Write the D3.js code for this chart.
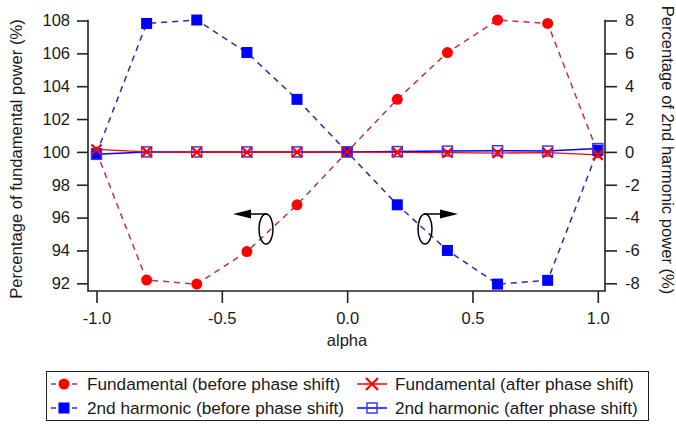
<!DOCTYPE html>
<html><head><meta charset="utf-8">
<script src="https://cdn.jsdelivr.net/npm/d3@7"></script>
<style>
html,body{margin:0;padding:0;background:#fff;}
svg{display:block;font-family:"Liberation Sans",Arial,sans-serif;}
</style></head>
<body>
<svg id="chart" width="676" height="424"></svg>
<script>
const alpha = [-1.0, -0.8, -0.6, -0.4, -0.2, 0.0, 0.2, 0.4, 0.6, 0.8, 1.0];
const fundBefore = [100.0, 92.2, 91.95, 93.93, 96.78, 100.0, 103.2, 106.05, 108.03, 107.82, 99.95];
const harmBefore = [-0.1, 7.82, 8.03, 6.05, 3.2, 0.0, -3.22, -6.0, -8.05, -7.82, 0.1];
const fundAfter = [100.15, 100.0, 99.98, 99.98, 99.98, 100.0, 99.97, 99.95, 99.93, 99.95, 99.82];
const harmAfter = [-0.15, 0.0, 0.0, 0.0, 0.0, 0.0, 0.02, 0.05, 0.07, 0.05, 0.2];
const xTicks = [-1.0, -0.5, 0.0, 0.5, 1.0];
const leftTicks = [92, 94, 96, 98, 100, 102, 104, 106, 108];
const rightTicks = [-8, -6, -4, -2, 0, 2, 4, 6, 8];
const legendLabels = ["Fundamental (before phase shift)", "2nd harmonic (before phase shift)",
                      "Fundamental (after phase shift)", "2nd harmonic (after phase shift)"];

const svg = d3.select("#chart");
const x = d3.scaleLinear().domain([-1, 1]).range([96.5, 597.8]);
const yL = d3.scaleLinear().domain([92, 108]).range([283.3, 20.5]);
const yR = d3.scaleLinear().domain([-8, 8]).range([283.3, 20.5]);
const left = 88, right = 605, bottom = 291;
const FS = 16.5;
const TXT = "#1a1a1a";

// axes
const axL = svg.append("g").attr("transform", `translate(${left},0)`)
  .call(d3.axisLeft(yL).tickValues(leftTicks).tickSize(11).tickPadding(7).tickFormat(d3.format("d")));
const axR = svg.append("g").attr("transform", `translate(${right},0)`)
  .call(d3.axisRight(yR).tickValues(rightTicks).tickSize(12).tickPadding(8).tickFormat(d => d < 0 ? "-" + Math.abs(d) : d));
const axB = svg.append("g").attr("transform", `translate(0,${bottom})`)
  .call(d3.axisBottom(x).tickValues(xTicks).tickSize(12).tickPadding(9).tickFormat(d => d < 0 ? "-" + Math.abs(d).toFixed(1) : d.toFixed(1)));
[axL, axR, axB].forEach(a => {
  a.select(".domain").remove();
  a.selectAll("line").attr("stroke", "#222").attr("stroke-width", 1.6);
  a.selectAll("text").attr("font-size", FS).attr("fill", TXT).attr("font-family", "Liberation Sans, Arial, sans-serif");
});
svg.append("line").attr("x1", left).attr("x2", left).attr("y1", yL(108) - 0.8).attr("y2", bottom).attr("stroke", "#222").attr("stroke-width", 1.6);
svg.append("line").attr("x1", right).attr("x2", right).attr("y1", yR(8) - 0.8).attr("y2", bottom).attr("stroke", "#222").attr("stroke-width", 1.6);
svg.append("line").attr("x1", left - 0.8).attr("x2", right + 0.8).attr("y1", bottom).attr("y2", bottom).attr("stroke", "#222").attr("stroke-width", 1.6);

// titles
svg.append("text").attr("transform", `translate(22,159) rotate(-90)`).attr("text-anchor", "middle")
  .attr("font-size", 16.6).attr("fill", TXT).text("Percentage of fundamental power (%)");
svg.append("text").attr("transform", `translate(662,150) rotate(90)`).attr("text-anchor", "middle")
  .attr("font-size", 16.6).attr("fill", TXT).text("Percentage of 2nd harmonic power (%)");
svg.append("text").attr("x", 347).attr("y", 346).attr("text-anchor", "middle")
  .attr("font-size", FS).attr("fill", TXT).text("alpha");

const pts = (ys, sc) => alpha.map((a, i) => [x(a), sc(ys[i])]);
const line = d3.line();

// after phase shift lines (solid)
svg.append("path").attr("d", line(pts(harmAfter, yR))).attr("fill", "none").attr("stroke", "#0000ff").attr("stroke-width", 1.5);
svg.append("path").attr("d", line(pts(fundAfter, yL))).attr("fill", "none").attr("stroke", "#ff0000").attr("stroke-width", 1.3);

// before lines (dashed)
svg.append("path").attr("d", line(pts(fundBefore, yL))).attr("fill", "none").attr("stroke", "#c0304a").attr("stroke-width", 1.5).attr("stroke-dasharray", "6,5");
svg.append("path").attr("d", line(pts(harmBefore, yR))).attr("fill", "none").attr("stroke", "#2a2ab0").attr("stroke-width", 1.5).attr("stroke-dasharray", "6,5");

// markers
svg.append("g").selectAll("circle").data(pts(fundBefore, yL)).join("circle")
  .attr("cx", d => d[0]).attr("cy", d => d[1]).attr("r", 5.5).attr("fill", "#ff0000");
svg.append("g").selectAll("rect").data(pts(harmBefore, yR)).join("rect")
  .attr("x", d => d[0] - 5.5).attr("y", d => d[1] - 5.5).attr("width", 11).attr("height", 11).attr("fill", "#0000ff");
svg.append("g").selectAll("rect").data(pts(harmAfter, yR)).join("rect")
  .attr("x", d => d[0] - 5).attr("y", d => d[1] - 5).attr("width", 10).attr("height", 10)
  .attr("fill", "none").attr("stroke", "#3a3aff").attr("stroke-width", 1.5);
svg.append("g").selectAll("path").data(pts(fundAfter, yL)).join("path")
  .attr("d", d => `M${d[0]-5},${d[1]-5}L${d[0]+5},${d[1]+5}M${d[0]-5},${d[1]+5}L${d[0]+5},${d[1]-5}`)
  .attr("stroke", "#ff0000").attr("stroke-width", 2.2).attr("fill", "none");

// annotations: ellipses with arrows
function annot(cx, cy, dir) {
  svg.append("ellipse").attr("cx", cx).attr("cy", cy).attr("rx", 7).attr("ry", 15)
    .attr("fill", "none").attr("stroke", "#000").attr("stroke-width", 1.5);
  const y0 = cy - 15;
  const tip = cx + dir * 33;
  svg.append("line").attr("x1", cx - dir * 1).attr("y1", y0).attr("x2", tip - dir * 14).attr("y2", y0).attr("stroke", "#000").attr("stroke-width", 1.5);
  svg.append("path").attr("d", `M${tip},${y0}L${tip - dir * 18},${y0 - 4.5}L${tip - dir * 18},${y0 + 4.5}Z`).attr("fill", "#000");
}
annot(266, 229, -1);
annot(425, 229, 1);

// legend
const lg = svg.append("g");
lg.append("rect").attr("x", 46.5).attr("y", 371.5).attr("width", 602).attr("height", 49)
  .attr("fill", "#fff").attr("stroke", "#222").attr("stroke-width", 1);
const rows = [384, 408];
const LFS = 17.2;
function legEntry(sx, sy, type, label) {
  const g = lg.append("g");
  if (type === "fb" || type === "hb") {
    const col = type === "fb" ? "#c0304a" : "#2a2ab0";
    g.append("line").attr("x1", sx - 13).attr("x2", sx - 8).attr("y1", sy).attr("y2", sy).attr("stroke", col).attr("stroke-width", 1.5);
    g.append("line").attr("x1", sx + 8).attr("x2", sx + 13).attr("y1", sy).attr("y2", sy).attr("stroke", col).attr("stroke-width", 1.5);
    if (type === "fb") g.append("circle").attr("cx", sx).attr("cy", sy).attr("r", 5.5).attr("fill", "#ff0000");
    else g.append("rect").attr("x", sx - 5.5).attr("y", sy - 5.5).attr("width", 11).attr("height", 11).attr("fill", "#0000ff");
  } else {
    const col = type === "fa" ? "#ff0000" : "#0000ff";
    g.append("line").attr("x1", sx - 15).attr("x2", sx + 15).attr("y1", sy).attr("y2", sy).attr("stroke", col).attr("stroke-width", 1.5);
    if (type === "fa") g.append("path").attr("d", `M${sx-6},${sy-6}L${sx+6},${sy+6}M${sx-6},${sy+6}L${sx+6},${sy-6}`).attr("stroke", col).attr("stroke-width", 2.2);
    else g.append("rect").attr("x", sx - 5).attr("y", sy - 5).attr("width", 10).attr("height", 10).attr("fill", "none").attr("stroke", "#3a3aff").attr("stroke-width", 1.5);
  }
  g.append("text").attr("x", sx + 23).attr("y", sy).attr("dy", "0.35em").attr("font-size", LFS).attr("fill", TXT).text(label);
}
legEntry(64, rows[0], "fb", legendLabels[0]);
legEntry(64, rows[1], "hb", legendLabels[1]);
legEntry(372, rows[0], "fa", legendLabels[2]);
legEntry(372, rows[1], "ha", legendLabels[3]);
</script>
</body></html>
